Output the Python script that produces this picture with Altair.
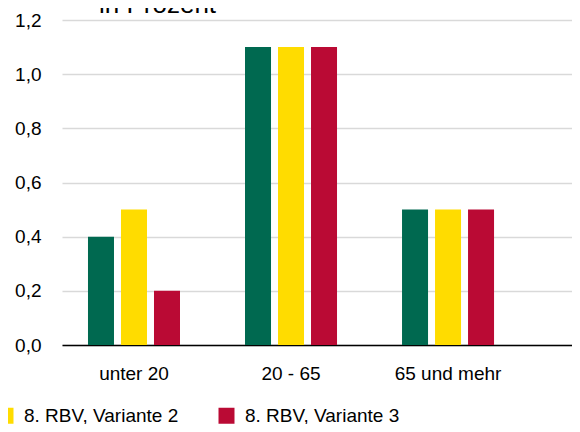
import altair as alt
import pandas as pd

categories = ["unter 20", "20 - 65", "65 und mehr"]
series = ["8. RBV, Variante 1", "8. RBV, Variante 2", "8. RBV, Variante 3"]
variante1 = [0.4, 1.1, 0.5]
variante2 = [0.5, 1.1, 0.5]
variante3 = [0.2, 1.1, 0.5]
y_ticks = [0.0, 0.2, 0.4, 0.6, 0.8, 1.0, 1.2]
colors = ["#006950", "#FFDC00", "#BA0A34"]
title_text = "in Prozent"

rows = []
for s, vals in zip(series, [variante1, variante2, variante3]):
    for c, v in zip(categories, vals):
        rows.append({"Altersgruppe": c, "Serie": s, "Wert": v})
df = pd.DataFrame(rows)

bars = alt.Chart(df).mark_bar().encode(
    x=alt.X(
        "Altersgruppe:N",
        sort=categories,
        scale=alt.Scale(paddingInner=0.414, paddingOuter=0.331, align=0.25),
        axis=alt.Axis(
            title=None, labelAngle=0, ticks=False, grid=False,
            domainColor="#000000", domainWidth=1.5,
            labelFontSize=19, labelPadding=19, labelColor="#000000",
        ),
    ),
    xOffset=alt.XOffset(
        "Serie:N", sort=series,
        scale=alt.Scale(paddingInner=0.212, paddingOuter=0),
    ),
    y=alt.Y(
        "Wert:Q",
        scale=alt.Scale(domain=[0, 1.2], nice=False),
        axis=alt.Axis(
            title=None, values=y_ticks, domain=False, ticks=False,
            labelExpr="replace(format(datum.value, '.1f'), '.', ',')",
            labelFontSize=19, labelPadding=21, labelColor="#000000",
            gridColor="#D9D9D9", gridWidth=1.5,
        ),
    ),
    color=alt.Color(
        "Serie:N",
        sort=series,
        scale=alt.Scale(domain=series, range=colors),
        legend=alt.Legend(
            orient="none", legendX=-287, legendY=386, direction="horizontal",
            title=None, symbolType="square", symbolSize=256,
            symbolStrokeWidth=0, symbolOpacity=1,
            labelFontSize=19, labelColor="#000000", labelOffset=9,
            columnPadding=38, labelLimit=300, padding=0,
        ),
    ),
)

title = alt.Chart(pd.DataFrame({"t": [title_text]})).mark_text(
    align="left", baseline="alphabetic", fontSize=26, color="#000000",
).encode(
    text="t:N",
    x=alt.value(37),
    y=alt.value(-7),
)

chart = alt.layer(bars, title).properties(
    width=510,
    height=325,
    padding={"left": 54, "top": 12, "right": 0, "bottom": 79},
    autosize=alt.AutoSizeParams(type="none"),
).configure(
    font="Liberation Sans",
).configure_view(
    stroke=None,
)

chart.save("out.html", embed_options={"renderer": "svg", "actions": False})
